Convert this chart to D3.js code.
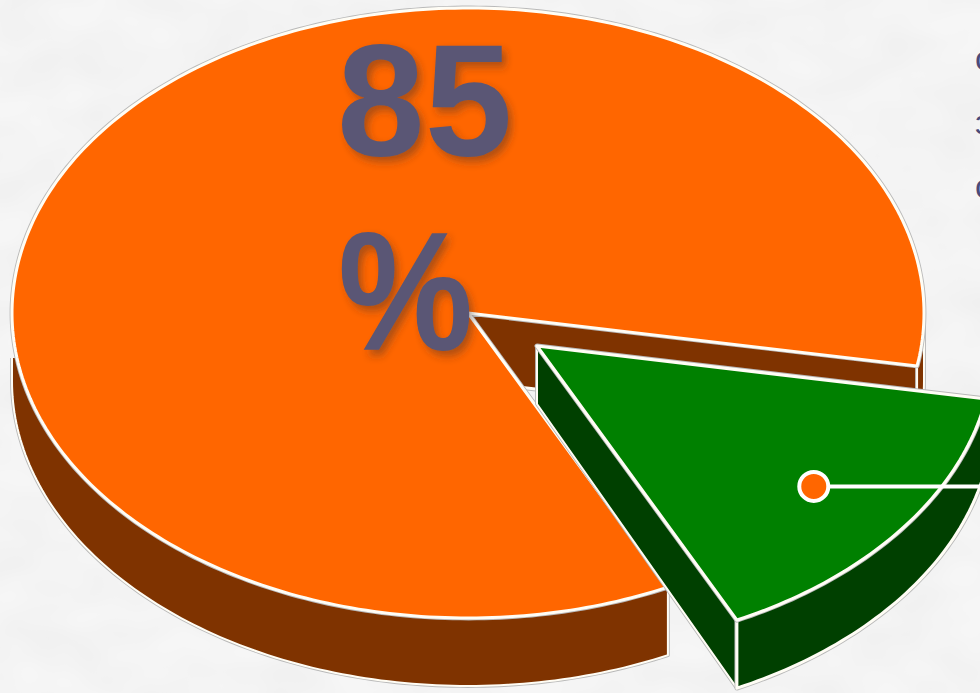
<!DOCTYPE html>
<html>
<head>
<meta charset="utf-8">
<script src="https://cdnjs.cloudflare.com/ajax/libs/d3/7.8.5/d3.min.js"></script>
<style>
  html, body { margin: 0; padding: 0; background: #f6f6f6; overflow: hidden; }
  svg { display: block; }
  text { font-family: "Liberation Sans", Arial, sans-serif; }
</style>
</head>
<body>
<div id="chart"></div>
<script>
// Share of the two slices
const categories = ['main', 'rest'];
const shares = [85, 15];
const labelLines = ['85', '%'];
// clipped words running off the right edge
const edgeLetters = ['с', 'з', 'с'];

const width = 980;
const height = 693;
const depth = 68;
const explode = { x: 69, y: 33 };

const topColors = { main: '#ff6600', rest: '#008000' };
const sideColors = { main: '#7f3300', rest: '#004000' };

const svg = d3.select('#chart').append('svg')
    .attr('width', width)
    .attr('height', height);

const defs = svg.append('defs');

// Faint marbled backdrop
const marble = defs.append('filter').attr('id', 'marble')
    .attr('x', 0).attr('y', 0).attr('width', '100%').attr('height', '100%');
marble.append('feTurbulence')
    .attr('type', 'fractalNoise').attr('baseFrequency', '0.016 0.024')
    .attr('numOctaves', 2).attr('seed', 11);
marble.append('feColorMatrix')
    .attr('values', '0 0 0 0 0.5  0 0 0 0 0.5  0 0 0 0 0.5  0.16 0 0 0 -0.04');

const shadow = defs.append('filter').attr('id', 'text-shadow')
    .attr('x', '-20%').attr('y', '-20%').attr('width', '140%').attr('height', '140%');
shadow.append('feDropShadow')
    .attr('dx', 4).attr('dy', 5).attr('stdDeviation', 4)
    .attr('flood-color', '#3a2a2a').attr('flood-opacity', 0.42);

// left end of the rim starts below the ellipse widest point
defs.append('clipPath').attr('id', 'wall-clip')
    .append('rect').attr('x', 0).attr('y', 358).attr('width', width).attr('height', height);

svg.append('rect').attr('width', width).attr('height', height).attr('fill', '#f6f6f6');
svg.append('rect').attr('width', width).attr('height', height).attr('filter', 'url(#marble)');

// Unit circle -> squashed ellipse
const px = d3.scaleLinear().domain([-1, 1]).range([12, 924]);
const py = d3.scaleLinear().domain([-1, 1]).range([8, 618]);

const rad = d => d * Math.PI / 180;
const pie = d3.pie().sort(null)
    .startAngle(rad(154))
    .endAngle(rad(154 + 360));
const slices = pie(shares).map((s, i) => ({ ...s, name: categories[i] }));

const line = d3.line().x(d => d[0]).y(d => d[1]);

function rimPoints(a0, a1, dx, dy) {
    const n = Math.max(2, Math.ceil(Math.abs(a1 - a0) / rad(1)));
    return d3.range(n + 1).map(i => {
        const a = a0 + (a1 - a0) * i / n;
        return [px(Math.sin(a)) + dx, py(-Math.cos(a)) + dy];
    });
}

function topPath(s, dx, dy) {
    return line([[px(0) + dx, py(0) + dy], ...rimPoints(s.startAngle, s.endAngle, dx, dy)]) + 'Z';
}

function wallPath(a0, a1, dx, dy) {
    const upper = rimPoints(a0, a1, dx, dy);
    const lower = rimPoints(a0, a1, dx, dy + depth).reverse();
    return line([...upper, ...lower]) + 'Z';
}

// centerDepth lets the wall taper a little toward the pie centre
function cutPath(a, dx, dy, centerDepth) {
    const cx = px(0) + dx;
    const cy = py(0) + dy;
    const rx = px(Math.sin(a)) + dx;
    const ry = py(-Math.cos(a)) + dy;
    return line([[cx, cy], [rx, ry], [rx, ry + depth], [cx, cy + centerDepth]]) + 'Z';
}

// Each face gets a grey halo then a white edge
function face(d, fill, clip, edge = 3) {
    const g = svg.append('g');
    if (clip) g.attr('clip-path', 'url(#wall-clip)');
    g.append('path').attr('d', d)
        .attr('fill', 'none').attr('stroke', '#b9b9b9').attr('stroke-width', edge + 1.8)
        .attr('stroke-linejoin', 'round');
    g.append('path').attr('d', d)
        .attr('fill', fill).attr('stroke', '#fffdf5').attr('stroke-width', edge)
        .attr('stroke-linejoin', 'round');
}

const main = slices[0];
const rest = slices[1];

// Main slice: inner cut, rim walls, then top
face(cutPath(main.endAngle, 0, 0, depth), sideColors.main);
face(wallPath(rad(90), main.endAngle - rad(360), 0, 0), sideColors.main, false, 2);
face(wallPath(main.startAngle, rad(270), 0, 0), sideColors.main, true, 2);
face(topPath(main, 0, 0), topColors.main);

// Exploded slice
face(cutPath(rest.endAngle, explode.x, explode.y, 58), sideColors.rest, false, 2);
face(wallPath(rest.startAngle, rest.endAngle, explode.x, explode.y), sideColors.rest);
face(topPath(rest, explode.x, explode.y), topColors.rest, false, 3.2);

// Leader dot sits on the slice mid angle
const mid = (rest.startAngle + rest.endAngle) / 2;
const dotX = px(Math.sin(mid) * 0.76) + explode.x;
const dotY = py(-Math.cos(mid) * 0.765) + explode.y;
svg.append('line')
    .attr('x1', dotX).attr('y1', dotY).attr('x2', width).attr('y2', dotY)
    .attr('stroke', '#fff').attr('stroke-width', 4);
svg.append('circle')
    .attr('cx', dotX).attr('cy', dotY).attr('r', 14.5)
    .attr('fill', topColors.main).attr('stroke', '#fff').attr('stroke-width', 4);

// Big value label, the % glyph is narrower and taller than the font's own
const labelTransforms = [
    'translate(337,155) scale(0.985,1)',
    'translate(338,350) scale(0.95,1.06)'
];
svg.selectAll('text.value')
    .data(labelLines)
    .enter().append('text')
    .attr('class', 'value')
    .attr('transform', (d, i) => labelTransforms[i])
    .attr('font-size', 160)
    .attr('font-weight', 700)
    .attr('fill', '#5a5675')
    .attr('filter', 'url(#text-shadow)')
    .text(d => d);

// Text cut off by the right edge
svg.selectAll('text.edge')
    .data(edgeLetters)
    .enter().append('text')
    .attr('class', 'edge')
    .attr('x', 975)
    .attr('y', (d, i) => 70 + i * 64)
    .attr('font-size', 34)
    .attr('fill', '#4b4a78')
    .text(d => d);
</script>
</body>
</html>
